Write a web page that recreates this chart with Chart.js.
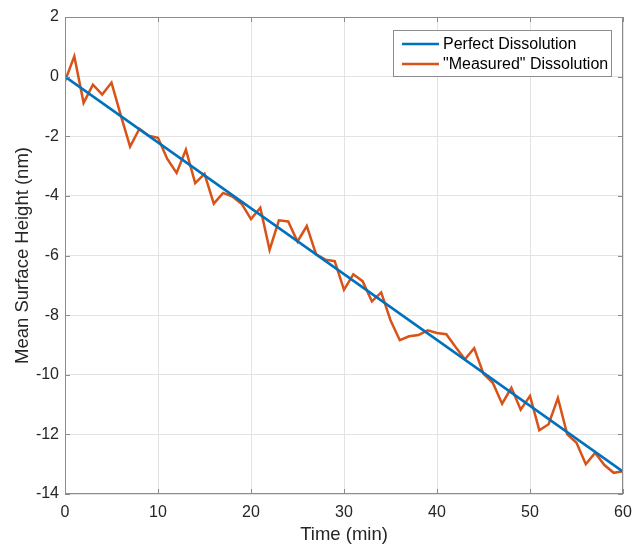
<!DOCTYPE html>
<html>
<head>
<meta charset="utf-8">
<script src="https://cdn.jsdelivr.net/npm/chart.js@4.4.1/dist/chart.umd.min.js"></script>
<style>
  html, body { margin: 0; padding: 0; background: #fff; }
  canvas { display: block; }
</style>
</head>
<body>
<canvas id="myChart" width="636" height="544"></canvas>
<script>
// time axis (min)
const times = [0,1,2,3,4,5,6,7,8,9,10,11,12,13,14,15,16,17,18,19,20,
  21,22,23,24,25,26,27,28,29,30,31,32,33,34,35,36,37,38,39,40,
  41,42,43,44,45,46,47,48,49,50,51,52,53,54,55,56,57,58,59,60]
// "measured" surface height (nm)
const measured = [-0.15,0.68,-0.88,-0.27,-0.60,-0.20,-1.30,-2.35,-1.75,-1.98,-2.05,
  -2.76,-3.23,-2.45,-3.57,-3.26,-4.26,-3.90,-4.02,-4.27,-4.78,
  -4.40,-5.81,-4.82,-4.86,-5.53,-5.01,-5.96,-6.14,-6.19,-7.15,
  -6.63,-6.86,-7.54,-7.24,-8.17,-8.84,-8.71,-8.67,-8.51,-8.60,
  -8.64,-9.07,-9.48,-9.11,-9.97,-10.27,-10.97,-10.44,-11.17,-10.71,
  -11.86,-11.66,-10.78,-12.00,-12.28,-13.00,-12.62,-13.03,-13.29,-13.24]
// perfect dissolution end points
const perfectT = [0, 60]
const perfectH = [0, -13.25]

const blue = '#0072BD'
const orange = '#D95319'
const axisGrey = '#8c8c8c'
const fontFam = '"Liberation Sans", Arial, sans-serif'

const toXY = (xs, ys) => xs.map((x, i) => ({ x: x, y: ys[i] }))

// matlab style box, inward ticks and legend inside the axes
const boxPlugin = {
    id: 'box',
    afterDraw(chart) {
        const ctx = chart.ctx
        const a = chart.chartArea
        const xs = chart.scales.x, ys = chart.scales.y
        ctx.save()
        ctx.strokeStyle = axisGrey
        ctx.lineWidth = 1
        ctx.strokeRect(a.left + 0.5, a.top + 0.5, a.right - a.left - 1, a.bottom - a.top - 1)
        ctx.beginPath()
        xs.ticks.forEach(t => {
            const px = Math.round(xs.getPixelForValue(t.value)) + 0.5
            ctx.moveTo(px, a.bottom); ctx.lineTo(px, a.bottom - 5)
            ctx.moveTo(px, a.top); ctx.lineTo(px, a.top + 5)
        })
        ys.ticks.forEach(t => {
            const py = Math.round(ys.getPixelForValue(t.value)) + 0.5
            ctx.moveTo(a.left, py); ctx.lineTo(a.left + 5, py)
            ctx.moveTo(a.right, py); ctx.lineTo(a.right - 5, py)
        })
        ctx.stroke()

        // legend
        const lx = 393, ly = 30, lw = 218, lh = 46
        ctx.fillStyle = '#fff'
        ctx.fillRect(lx, ly, lw, lh)
        ctx.strokeStyle = axisGrey
        ctx.strokeRect(lx + 0.5, ly + 0.5, lw, lh)
        ctx.font = '16px ' + fontFam
        ctx.textBaseline = 'middle'
        ctx.fillStyle = '#000'
        chart.data.datasets.forEach((ds, i) => {
            const yy = ly + 14 + i * 20
            ctx.strokeStyle = ds.borderColor
            ctx.lineWidth = 2.5
            ctx.beginPath()
            ctx.moveTo(lx + 9, yy); ctx.lineTo(lx + 46, yy)
            ctx.stroke()
            ctx.fillText(ds.label, lx + 50, yy + 1)
        })
        ctx.restore()
    }
}

const ctx = document.getElementById('myChart').getContext('2d')
const myChart = new Chart(ctx, {
    type: 'line',
    data: {
        datasets: [{
            label: 'Perfect Dissolution',
            data: toXY(perfectT, perfectH),
            borderColor: blue,
            borderWidth: 2.5,
            pointRadius: 0,
            tension: 0
        }, {
            label: '"Measured" Dissolution',
            data: toXY(times, measured),
            borderColor: orange,
            borderWidth: 2.5,
            pointRadius: 0,
            tension: 0
        }]
    },
    options: {
        responsive: false,
        animation: false,
        layout: { padding: { top: 17, right: 13, left: 0, bottom: 0 } },
        plugins: { legend: { display: false }, tooltip: { enabled: false } },
        scales: {
            x: {
                type: 'linear',
                min: 0, max: 60,
                ticks: { stepSize: 10, color: '#262626', padding: 9,
                    font: { family: fontFam, size: 16 } },
                grid: { color: '#e3e3e3', drawTicks: false },
                border: { display: false },
                title: { display: true, text: 'Time (min)', color: '#262626', padding: { top: 0, bottom: 0 },
                    font: { family: fontFam, size: 18.5, lineHeight: 1.0 } },
                afterFit: s => { s.height = 50; s.paddingRight = 0; s.paddingLeft = 0 }
            },
            y: {
                min: -14, max: 2,
                ticks: { stepSize: 2, color: '#262626', padding: 6,
                    font: { family: fontFam, size: 16 } },
                grid: { color: '#e3e3e3', drawTicks: false },
                border: { display: false },
                title: { display: true, text: 'Mean Surface Height (nm)', color: '#262626', padding: { top: 12, bottom: 0 },
                    font: { family: fontFam, size: 18.5 } },
                afterFit: s => { s.width = 65; s.paddingTop = 0; s.paddingBottom = 0 }
            }
        }
    },
    plugins: [boxPlugin]
})
</script>
</body>
</html>
